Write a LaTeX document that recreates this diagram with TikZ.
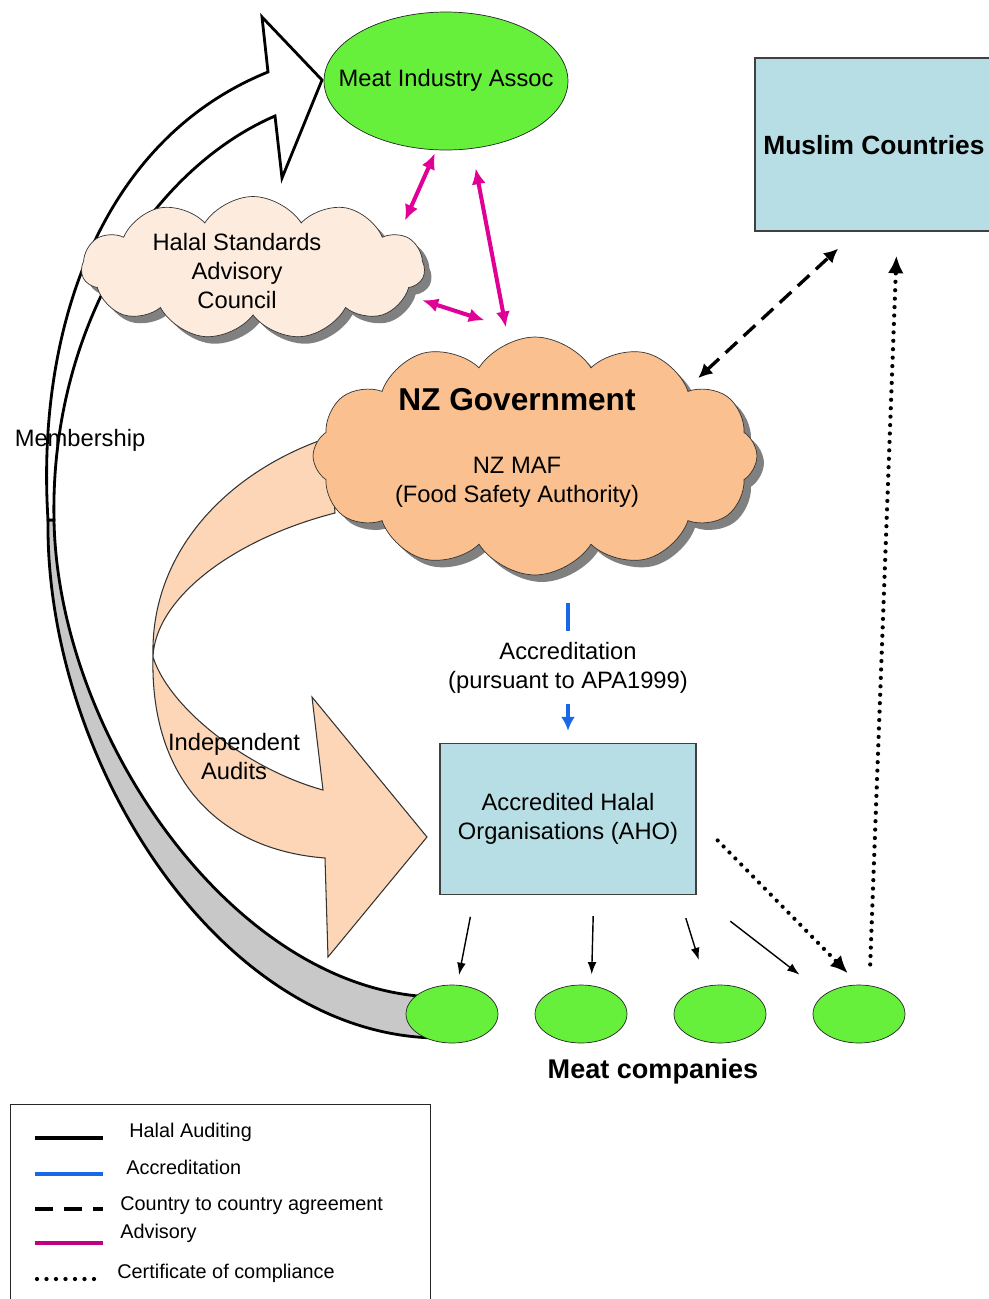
\documentclass[tikz,border=0pt]{standalone}
\usepackage{fontspec}
\setmainfont{Liberation Sans}
\usetikzlibrary{positioning, arrows.meta, shapes.geometric, shapes.symbols, shadows, calc}

\definecolor{meatgreen}{RGB}{102,240,60}
\definecolor{halalpeach}{RGB}{253,236,222}
\definecolor{govorange}{RGB}{250,192,143}
\definecolor{auditpeach}{RGB}{252,214,182}
\definecolor{ahoblue}{RGB}{183,222,228}
\definecolor{advmagenta}{RGB}{225,0,150}
\definecolor{accblue}{RGB}{25,105,230}
\definecolor{bandgray}{RGB}{200,200,200}

\begin{document}
\begin{tikzpicture}[x=0.02cm, y=-0.02cm, >=Latex,
    lbl/.style={font=\fontsize{13.5}{16.5}\selectfont, align=center, inner sep=1pt},
    legendtext/.style={font=\fontsize{11.3}{13}\selectfont, anchor=west, inner sep=0pt},
    company/.style={ellipse, draw=black!85, fill=meatgreen, minimum width=1.84cm, minimum height=1.16cm, inner sep=0pt},
    bluebox/.style={rectangle, draw=black!75, fill=ahoblue, thick},
    puff/.style={cloud, cloud puffs=11, cloud puff arc=115, draw=black!80,
        drop shadow={shadow xshift=0.14cm, shadow yshift=-0.14cm, fill=black!50, opacity=1}},
    advisory/.style={<->, line width=2.3pt, draw=advmagenta, >={Latex[length=9pt,width=8pt]}},
    accredit/.style={->, line width=2.3pt, draw=accblue, >={Latex[length=8pt,width=8pt]}},
    audit/.style={->, line width=0.8pt, >={Latex[length=7pt,width=5pt]}},
    agreement/.style={<->, line width=1.9pt, dash pattern=on 9pt off 5pt, >={Latex[length=8pt,width=8pt]}},
    certificate/.style={->, line width=2.4pt, line cap=round, dash pattern=on 0pt off 4.8pt, >={Latex[length=10pt,width=9pt]}},
    ribbon/.style={line width=1.6pt, draw=black}]

\useasboundingbox (0,0) rectangle (989,1299);

% membership ribbon
\draw[ribbon, fill=bandgray] (48,520) .. controls (45,760) and (220,1038) .. (440,1038)
    -- (440,997) .. controls (240,997) and (58,740) .. (54,520) -- cycle;
\draw[ribbon, fill=white] (48,520) .. controls (36,330) and (100,140) .. (268,72)
    -- (262,17) -- (322,80) -- (282,178) -- (275,116)
    .. controls (150,170) and (50,330) .. (54,520) -- cycle;
\node[lbl] (member) at (80,440) {Membership};

% independent audits arrow
\draw[draw=black!80, line width=0.6pt, fill=auditpeach] (330,437) .. controls (230,470) and (150,550) .. (153,657)
    .. controls (150,780) and (220,850) .. (325,858) -- (328,957) -- (427,837) -- (312,697) -- (323,790)
    .. controls (250,770) and (170,710) .. (153,657) .. controls (155,600) and (230,540) .. (335,513) -- cycle;
\node[lbl] (audits) at (234,757) {Independent\\Audits};

% bodies
\node[ellipse, draw=black!85, fill=meatgreen, minimum width=4.88cm, minimum height=2.76cm] (meat) at (446,81) {};
\node[lbl] (meattext) at (446,80) {Meat Industry Assoc};
\node[puff, fill=halalpeach, aspect=2.4, minimum width=6.86cm, minimum height=2.86cm] (halal) at (253,268) {};
\node[lbl] (halaltext) at (237,271) {Halal Standards\\Advisory\\Council};
\node[puff, fill=govorange, cloud puffs=12, aspect=1.9, minimum width=8.88cm, minimum height=4.76cm] (nzgov) at (535,456) {};
\node[font=\bfseries\fontsize{18}{22}\selectfont] (govname) at (517,400) {NZ Government};
\node[lbl] (maf) at (517,482) {NZ MAF\\(Food Safety Authority)};

\node[bluebox, minimum width=5.08cm, minimum height=3.46cm] (muslim) at (882,144.5) {};
\node[font=\bfseries\fontsize{15}{18}\selectfont, anchor=west, inner sep=0pt] (muslimtext) at (763,145) {Muslim Countries};

\node[bluebox, minimum width=5.12cm, minimum height=3.02cm, lbl] (aho) at (568,819) {Accredited Halal\\Organisations (AHO)};

\foreach \i/\x in {1/452, 2/581, 3/720, 4/859}
    \node[company] (mc\i) at (\x,1014) {};
\node[font=\bfseries\fontsize{15.4}{18}\selectfont] (mclabel) at (653,1071) {Meat companies};

% advisory links
\draw[advisory, shorten <=2pt, shorten >=0.3cm] (meat.262) -- (halal.13);
\draw[advisory, shorten <=0.4cm, shorten >=0.3cm] (meat.291) -- (nzgov.103);
\draw[advisory, shorten <=0.34cm, shorten >=1.06cm] (halal.-10) -- (nzgov.north);

% accreditation
\draw[accredit, shorten <=0.56cm, shorten >=0.24cm] (aho.north |- nzgov.south) -- (aho.north)
    node[pos=0.55, fill=white, lbl, inner xsep=3pt, inner ysep=6pt] (acclabel) {Accreditation\\(pursuant to APA1999)};

% halal auditing
\draw[audit, shorten <=0.44cm, shorten >=0.2cm] ($(aho.south west)!0.137!(aho.south east)$) -- (mc1.80);
\draw[audit, shorten <=0.42cm, shorten >=0.22cm] ($(aho.south west)!0.6!(aho.south east)$) -- (mc2.70);
\draw[audit, shorten <=0.48cm, shorten >=0.54cm] ($(aho.south west)!0.93!(aho.south east)$) -- (mc3.115);
\draw[audit, shorten <=0.85cm, shorten >=0.64cm] (aho.south east) -- (mc4.150);

% country to country
\draw[agreement, shorten <=0.3cm, shorten >=0.5cm] (nzgov.24) -- ($(muslim.south west)!0.4!(muslim.south east)$);

% certificates
\draw[certificate, shorten <=0.6cm, shorten >=0.32cm] (aho.east) -- (mc4.north);
\draw[certificate, shorten <=0.42cm, shorten >=0.48cm] (mc4.70) -- ($(muslim.south west)!0.56!(muslim.south east)$);

% legend
\node[draw=black!85, minimum width=8.4cm, minimum height=4.4cm, anchor=north west, inner sep=0pt] (legend) at (10,1104) {};
\draw[line width=2.4pt] (35,1138) -- (103,1138);
\node[legendtext] (leg1) at (129,1132) {Halal Auditing};
\draw[line width=2.4pt, accblue] (35,1174) -- (103,1174);
\node[legendtext] (leg2) at (126,1167) {Accreditation};
\draw[line width=2.4pt, dash pattern=on 0.36cm off 0.22cm] (35,1209) -- (103,1209);
\node[legendtext] (leg3) at (120,1206) {Country to country agreement};
\draw[line width=2.4pt, advmagenta!85!black] (35,1243) -- (103,1243);
\node[legendtext] (leg4) at (120,1233) {Advisory};
\draw[line width=2.4pt, line cap=round, dash pattern=on 0pt off 0.19cm] (37,1279) -- (103,1279);
\node[legendtext] (leg5) at (117,1273) {Certificate of compliance};
\end{tikzpicture}
\end{document}
